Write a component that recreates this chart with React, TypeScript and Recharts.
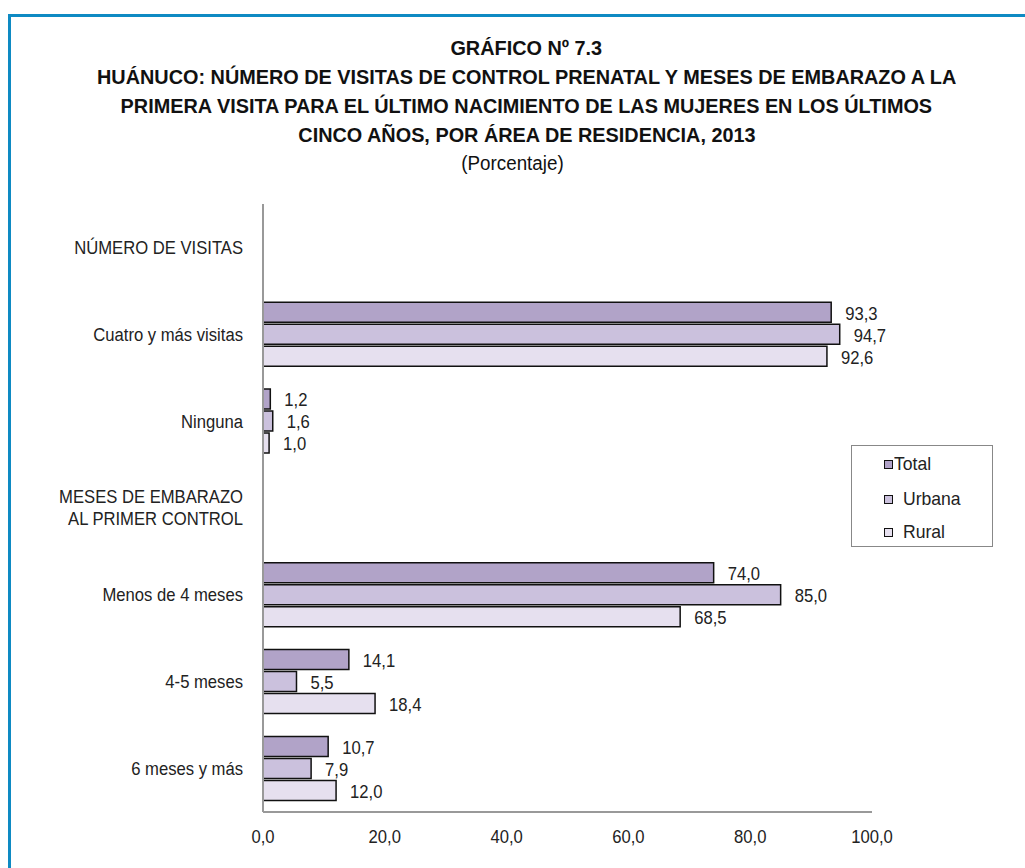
import React from "react"
import { BarChart, Bar, XAxis, YAxis, LabelList } from "recharts"

const categories = [
    "NÚMERO DE VISITAS",
    "Cuatro y más visitas",
    "Ninguna",
    "MESES DE EMBARAZO\nAL PRIMER CONTROL",
    "Menos de 4 meses",
    "4-5 meses",
    "6 meses y más",
]
const totalValues = [null, 93.3, 1.2, null, 74.0, 14.1, 10.7]
const urbanaValues = [null, 94.7, 1.6, null, 85.0, 5.5, 7.9]
const ruralValues = [null, 92.6, 1.0, null, 68.5, 18.4, 12.0]
const xTicks = [0, 20, 40, 60, 80, 100]

// no narrow Arial installed, so squeeze Liberation Sans horizontally
const FONT = "'Liberation Sans', Arial, sans-serif"
const SQUEEZE = 0.9
const COLORS = { total: "#b1a3c8", urbana: "#cbc1dd", rural: "#e6e0ef" }

const data = categories.map((name, i) => ({
    name,
    total: totalValues[i],
    urbana: urbanaValues[i],
    rural: ruralValues[i],
}))

const fmt = (v: unknown) => (typeof v === "number" ? v.toFixed(1).replace(".", ",") : "")

function NarrowText({ x, y, anchor = "start", size = 18.5, children }: any) {
    return (
        <text
            transform={`translate(${x},${y}) scale(${SQUEEZE},1)`}
            x={0}
            y={0}
            dy="0.35em"
            textAnchor={anchor}
            fill="#222"
            fontSize={size}
            fontFamily={FONT}
        >
            {children}
        </text>
    )
}

// y axis labels can span two lines
function CategoryTick({ x, y, payload }: any) {
    const lines = String(payload.value).split("\n")
    const lh = 22
    const start = -((lines.length - 1) * lh) / 2
    return (
        <g>
            {lines.map((l, i) => (
                <NarrowText key={i} x={x} y={y + start + i * lh} anchor="end">{l}</NarrowText>
            ))}
        </g>
    )
}

function ValueTick({ x, y, payload }: any) {
    return <NarrowText x={x} y={y + 25} anchor="middle">{fmt(payload.value)}</NarrowText>
}

function BarValue({ x, y, width, height, value }: any) {
    if (value == null) return null
    return <NarrowText x={Number(x) + Number(width) + 14} y={Number(y) + Number(height) / 2 + 1}>{fmt(value)}</NarrowText>
}

function LegendBox() {
    const items = [
        { label: "Total", color: COLORS.total, y: 18, gap: 1 },
        { label: "Urbana", color: COLORS.urbana, y: 53, gap: 10 },
        { label: "Rural", color: COLORS.rural, y: 86, gap: 10 },
    ]
    return (
        <div style={{ position: "absolute", left: 851, top: 445, width: 140, height: 100, border: "1px solid #888", background: "#fff" }}>
            {items.map(it => (
                <div key={it.label} style={{ position: "absolute", left: 32, top: it.y - 11, height: 22, display: "flex", alignItems: "center", fontFamily: FONT, fontSize: 18.5, color: "#222" }}>
                    <span style={{ display: "inline-block", width: 7, height: 7, background: it.color, border: "1.5px solid #111", marginRight: it.gap }} />
                    <span style={{ display: "inline-block", transform: "scaleX(0.95)", transformOrigin: "left center" }}>{it.label}</span>
                </div>
            ))}
        </div>
    )
}

const titleLines = [
    { text: "GRÁFICO Nº 7.3", bold: true },
    { text: "HUÁNUCO: NÚMERO DE VISITAS DE CONTROL PRENATAL Y MESES DE EMBARAZO A LA", bold: true },
    { text: "PRIMERA VISITA PARA EL ÚLTIMO NACIMIENTO DE LAS MUJERES EN LOS ÚLTIMOS", bold: true },
    { text: "CINCO AÑOS, POR ÁREA DE RESIDENCIA, 2013", bold: true },
    { text: "(Porcentaje)", bold: false },
]

export default function App() {
    return (
        <div style={{ position: "absolute", left: 0, top: 0, width: 1025, height: 868, background: "#fff", overflow: "hidden" }}>
            <div style={{ position: "absolute", left: 8, top: 14, width: 1100, height: 1000, borderTop: "3px solid #0e8ac3", borderLeft: "3px solid #0e8ac3" }} />
            <div style={{ position: "absolute", left: 0, top: 33, width: 1025, textAlign: "center", fontFamily: FONT, color: "#111", lineHeight: "29px" }}>
                {titleLines.map(l => (
                    <div key={l.text} style={{ fontWeight: l.bold ? "bold" : "normal", fontSize: l.bold ? 21 : 20, paddingLeft: l.bold ? 28 : 0 }}>
                        <span style={{ display: "inline-block", transform: `scaleX(${l.bold ? 0.945 : 0.94})`, whiteSpace: "nowrap" }}>{l.text}</span>
                    </div>
                ))}
            </div>
            <div style={{ position: "absolute", left: 0, top: 0 }}>
                <BarChart
                    width={1025}
                    height={868}
                    data={data}
                    layout="vertical"
                    margin={{ top: 204, right: 153, bottom: 26, left: 0 }}
                    barCategoryGap="13%"
                    barGap={2}
                >
                    <XAxis
                        type="number"
                        domain={[0, 100]}
                        ticks={xTicks}
                        height={30}
                        tickLine={false}
                        tickSize={0}
                        tickMargin={0}
                        axisLine={{ stroke: "#999", strokeWidth: 2 }}
                        tick={ValueTick}
                    />
                    <YAxis
                        type="category"
                        dataKey="name"
                        width={263}
                        tickLine={false}
                        tickSize={0}
                        tickMargin={20}
                        interval={0}
                        axisLine={{ stroke: "#999", strokeWidth: 2 }}
                        tick={CategoryTick}
                    />
                    <Bar dataKey="total" fill={COLORS.total} stroke="#111" strokeWidth={1.5} isAnimationActive={false}>
                        <LabelList dataKey="total" content={BarValue} />
                    </Bar>
                    <Bar dataKey="urbana" fill={COLORS.urbana} stroke="#111" strokeWidth={1.5} isAnimationActive={false}>
                        <LabelList dataKey="urbana" content={BarValue} />
                    </Bar>
                    <Bar dataKey="rural" fill={COLORS.rural} stroke="#111" strokeWidth={1.5} isAnimationActive={false}>
                        <LabelList dataKey="rural" content={BarValue} />
                    </Bar>
                </BarChart>
            </div>
            <LegendBox />
        </div>
    )
}
